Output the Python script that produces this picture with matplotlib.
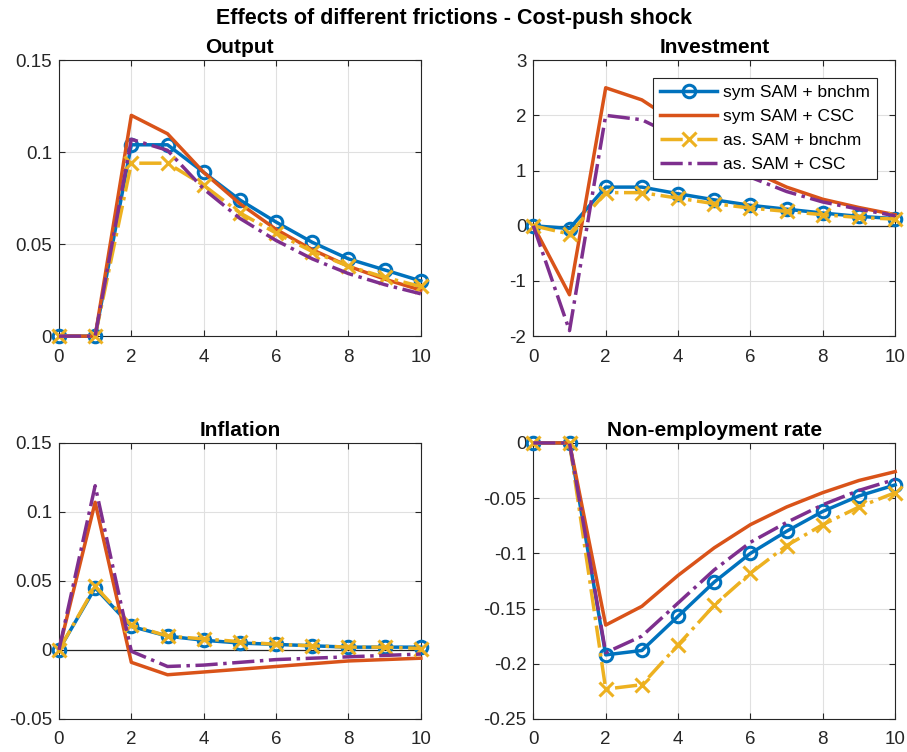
import matplotlib
matplotlib.use('Agg')
import matplotlib.pyplot as plt

plt.rcParams['font.family'] = ['Liberation Sans', 'DejaVu Sans']

# horizon
periods = list(range(11))

labels = ["sym SAM + bnchm", "sym SAM + CSC", "as. SAM + bnchm", "as. SAM + CSC"]

# Output
out_sym_bn = [0, 0, 0.104, 0.104, 0.089, 0.074, 0.062, 0.051, 0.042, 0.036, 0.030]
out_sym_csc = [0, 0, 0.120, 0.110, 0.089, 0.072, 0.058, 0.047, 0.038, 0.031, 0.025]
out_as_bn = [0, 0, 0.094, 0.094, 0.082, 0.067, 0.056, 0.046, 0.038, 0.032, 0.027]
out_as_csc = [0, 0, 0.107, 0.101, 0.080, 0.064, 0.052, 0.042, 0.034, 0.028, 0.023]

# Investment
inv_sym_bn = [0, -0.05, 0.70, 0.70, 0.58, 0.47, 0.37, 0.30, 0.23, 0.17, 0.13]
inv_sym_csc = [0, -1.25, 2.50, 2.28, 1.85, 1.40, 1.00, 0.70, 0.48, 0.33, 0.20]
inv_as_bn = [0, -0.15, 0.60, 0.60, 0.50, 0.40, 0.32, 0.26, 0.20, 0.15, 0.12]
inv_as_csc = [0, -1.90, 2.00, 1.92, 1.60, 1.20, 0.88, 0.62, 0.43, 0.30, 0.18]

# Inflation
inf_sym_bn = [0, 0.045, 0.017, 0.010, 0.007, 0.005, 0.004, 0.003, 0.002, 0.002, 0.002]
inf_sym_csc = [0, 0.107, -0.009, -0.018, -0.016, -0.014, -0.012, -0.010, -0.008, -0.007, -0.006]
inf_as_bn = [0, 0.046, 0.018, 0.010, 0.008, 0.006, 0.004, 0.003, 0.002, 0.002, 0.001]
inf_as_csc = [0, 0.119, -0.001, -0.012, -0.011, -0.009, -0.007, -0.006, -0.005, -0.004, -0.003]

# Non-employment rate
ne_sym_bn = [0, 0, -0.192, -0.188, -0.157, -0.126, -0.100, -0.080, -0.062, -0.048, -0.038]
ne_sym_csc = [0, 0, -0.165, -0.148, -0.120, -0.095, -0.074, -0.058, -0.045, -0.034, -0.026]
ne_as_bn = [0, 0, -0.223, -0.219, -0.183, -0.147, -0.118, -0.093, -0.074, -0.058, -0.045]
ne_as_csc = [0, 0, -0.190, -0.175, -0.145, -0.115, -0.090, -0.072, -0.056, -0.043, -0.033]

panels = [
    ("Output", [out_sym_bn, out_sym_csc, out_as_bn, out_as_csc], (0, 0.15), [0, 0.05, 0.1, 0.15], ["0", "0.05", "0.1", "0.15"]),
    ("Investment", [inv_sym_bn, inv_sym_csc, inv_as_bn, inv_as_csc], (-2, 3), [-2, -1, 0, 1, 2, 3], ["-2", "-1", "0", "1", "2", "3"]),
    ("Inflation", [inf_sym_bn, inf_sym_csc, inf_as_bn, inf_as_csc], (-0.05, 0.15), [-0.05, 0, 0.05, 0.1, 0.15], ["-0.05", "0", "0.05", "0.1", "0.15"]),
    ("Non-employment rate", [ne_sym_bn, ne_sym_csc, ne_as_bn, ne_as_csc], (-0.25, 0), [-0.25, -0.2, -0.15, -0.1, -0.05, 0], ["-0.25", "-0.2", "-0.15", "-0.1", "-0.05", "0"]),
]

colors = ['#0072BD', '#D95319', '#EDB120', '#7E2F8E']
styles = [
    dict(linestyle='-', marker='o', markersize=9, markerfacecolor='none', markeredgewidth=2.2),
    dict(linestyle='-'),
    dict(linestyle='-.', marker='x', markersize=10, markeredgewidth=2.2),
    dict(linestyle='-.'),
]

# axes boxes in figure fractions (left, bottom, width, height)
boxes = [
    (0.065, 0.553, 0.399, 0.367),
    (0.588, 0.553, 0.399, 0.367),
    (0.065, 0.044, 0.399, 0.367),
    (0.588, 0.044, 0.399, 0.367),
]

fig = plt.figure(figsize=(9.07, 7.52), dpi=100)
fig.text(0.5, 0.975, "Effects of different frictions - Cost-push shock",
         ha='center', va='center', fontsize=15.5, fontweight='bold')

dark = '#262626'
for (title, series, ylim, yticks, yticklabels), box in zip(panels, boxes):
    ax = fig.add_axes(box)
    if title in ("Investment", "Inflation"):
        ax.axhline(0, color=dark, linewidth=0.9, zorder=1)
    for vals, c, st, lab in zip(series, colors, styles, labels):
        ax.plot(periods, vals, color=c, linewidth=2.5, label=lab, clip_on=False, zorder=3, **st)
    ax.set_xlim(0, 10)
    ax.set_ylim(*ylim)
    ax.set_xticks([0, 2, 4, 6, 8, 10])
    ax.set_yticks(yticks)
    ax.set_yticklabels(yticklabels)
    ax.set_title(title, fontsize=15, fontweight='bold', pad=5)
    ax.grid(True, color='#e0e0e0', linewidth=0.8)
    ax.set_axisbelow(True)
    ax.tick_params(direction='in', top=True, right=True, labelsize=13.5, colors=dark, length=4)
    ax.tick_params(axis='x', pad=9)
    ax.tick_params(axis='y', pad=5)
    for sp in ax.spines.values():
        sp.set_color(dark)
        sp.set_linewidth(0.8)
    if title == "Investment":
        leg = ax.legend(loc='upper right', bbox_to_anchor=(0.95, 0.935), borderaxespad=0,
                        fontsize=12.5, fancybox=False, framealpha=1, edgecolor=dark,
                        handlelength=3.3, borderpad=0.4, labelspacing=0.5, handletextpad=0.35)
        leg.get_frame().set_linewidth(0.8)

fig.savefig("out.png", dpi=100)
